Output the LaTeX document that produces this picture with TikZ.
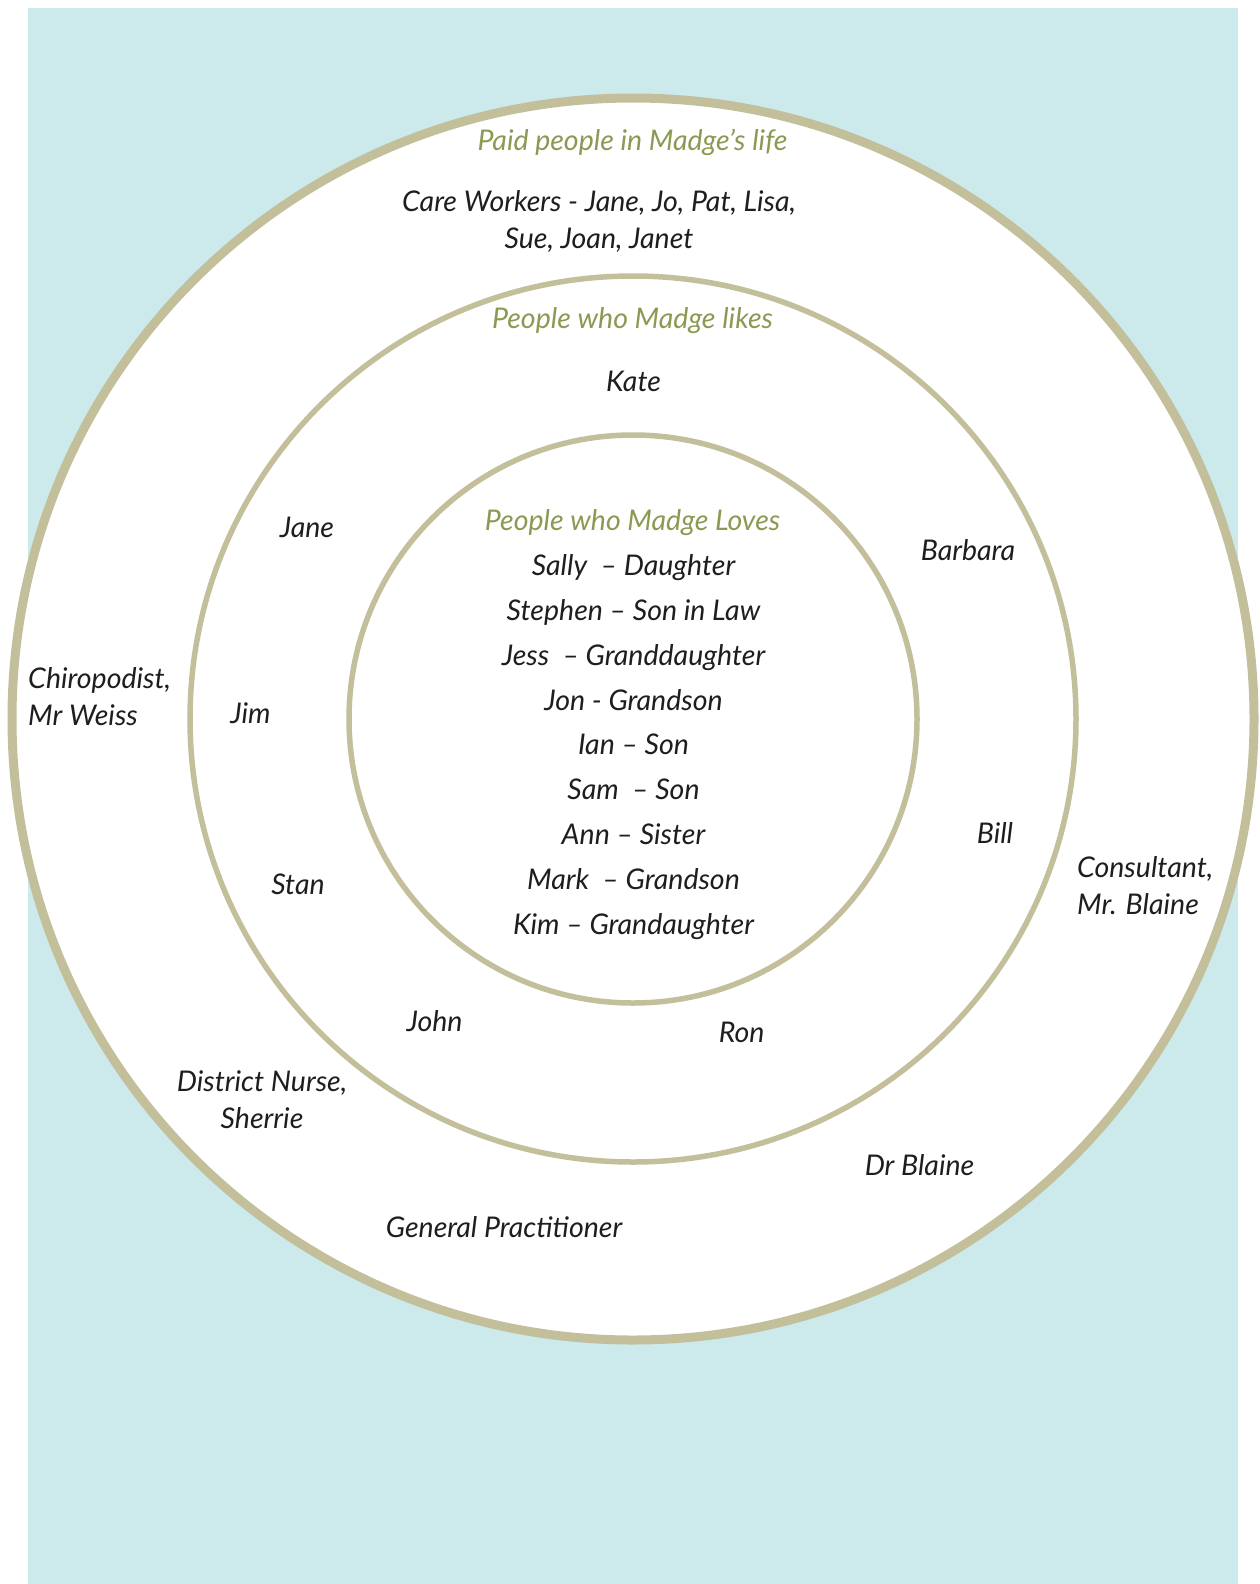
\documentclass[tikz,border=0pt]{standalone}
\usepackage{fontspec}
\setmainfont{Lato}
\definecolor{bgc}{HTML}{CCEAEC}
\definecolor{ringc}{HTML}{C2BF9A}
\definecolor{ttlc}{HTML}{8A9A52}
\definecolor{txtc}{HTML}{1E1E1E}
\begin{document}
\begin{tikzpicture}[x=1pt,y=-1pt,
  lbl/.style={font=\fontsize{28.5}{37}\selectfont\itshape, text=txtc, inner sep=0pt, align=center},
  ttl/.style={lbl, text=ttlc},
  list/.style={lbl, font=\fontsize{28.5}{44.9}\selectfont\itshape},
  ring/.style={draw=ringc, fill=white}]
\useasboundingbox (0,0) rectangle (1260,1584);
\fill[bgc] (28,8) rectangle (1238,1584);
\draw[ring, line width=9pt] (633,719) circle[radius=621pt];
\draw[ring, line width=5.5pt] (633,719) circle[radius=443pt];
\draw[ring, line width=5.5pt] (633,719) circle[radius=284pt];
% outer ring
\node[ttl] (paid) at (632.5,142.5) {Paid people in Madge’s life};
\node[lbl] (care) at (599,221) {Care Workers - Jane, Jo, Pat, Lisa,\\Sue, Joan, Janet};
\node[lbl, anchor=west, align=left] (chiro) at (28,697) {Chiropodist,\\Mr Weiss};
\node[lbl, anchor=west, align=left] (cons) at (1077,886) {Consultant,\\Mr. Blaine};
\node[lbl] (nurse) at (262,1100) {District Nurse,\\Sherrie};
\node[lbl] (drb) at (919.5,1165) {Dr Blaine};
\node[lbl] (gp) at (504,1227.6) {General Practitioner};
% middle ring
\node[ttl] (likes) at (632.5,321) {People who Madge likes};
\node[lbl] (kate) at (633.5,381) {Kate};
\node[lbl] (jane) at (307,527.5) {Jane};
\node[lbl] (barbara) at (968,550) {Barbara};
\node[lbl] (jim) at (250.5,713) {Jim};
\node[lbl] (bill) at (995,832.5) {Bill};
\node[lbl] (stan) at (298,884) {Stan};
\node[lbl] (john) at (434.5,1021.5) {John};
\node[lbl] (ron) at (741.6,1032.6) {Ron};
% inner ring
\node[ttl] (loves) at (632.5,523) {People who Madge Loves};
\node[list] (family) at (633.5,747) {Sally\ \ – Daughter\\Stephen – Son in Law\\Jess\ \ – Granddaughter\\Jon - Grandson\\Ian – Son\\Sam\ \ – Son\\Ann – Sister\\Mark\ \ – Grandson\\Kim – Grandaughter};
\end{tikzpicture}
\end{document}
